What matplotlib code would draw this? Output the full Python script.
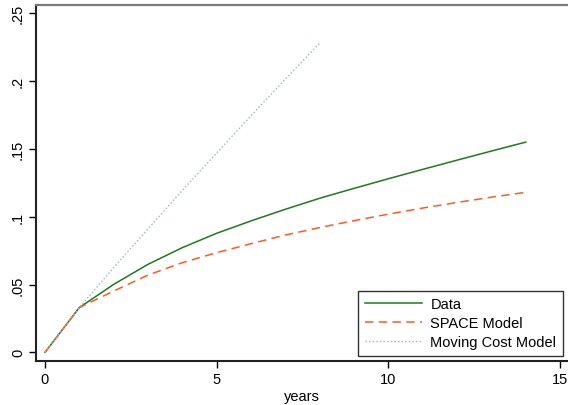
import numpy as np
import matplotlib
matplotlib.use("Agg")
import matplotlib.pyplot as plt

plt.rcParams["font.family"] = ["Liberation Sans", "DejaVu Sans"]

# data
years = list(range(0, 15))
data = [0.0, 0.033, 0.0501, 0.0649, 0.0772, 0.0878, 0.0969, 0.1055, 0.1136,
        0.1209, 0.1280, 0.1349, 0.1417, 0.1484, 0.1550]
space_model = [0.0, 0.033, 0.0452, 0.0570, 0.0661, 0.0735, 0.0801, 0.0865, 0.0920,
               0.0971, 0.1019, 0.1064, 0.1105, 0.1144, 0.1180]
mc_years = list(range(0, 9))
moving_cost = [0.0, 0.033, 0.0625, 0.0910, 0.1195, 0.1470, 0.1745, 0.2015, 0.2280]

xticks = [0, 5, 10, 15]
yticks = [0, 0.05, 0.1, 0.15, 0.2, 0.25]
ytick_labels = ["0", ".05", ".1", ".15", ".2", ".25"]

fig = plt.figure(figsize=(5.68, 4.06), dpi=100)
ax = fig.add_axes([36 / 568, 1 - 362.3 / 406, 532 / 568, 356.6 / 406])

ax.plot(years, data, color="#1e7a1e", lw=1.1, label="Data")
ax.plot(years, space_model, color="#ff5a1e", lw=1.1, dashes=(5.5, 3.5), label="SPACE Model")
ax.plot(mc_years, moving_cost, color="#9fb3c8", lw=1.0, dashes=(1, 1.6), label="Moving Cost Model")

ax.set_xlim(-0.262, 15.23)
ax.set_ylim(-0.0066, 0.2563)
ax.set_xticks(xticks)
ax.set_yticks(yticks)
ax.set_yticklabels(ytick_labels, rotation=90, va="center")
ax.tick_params(axis="both", direction="out", length=5, width=1, labelsize=10.5, pad=3)
ax.set_xlabel("years", fontsize=10.5, labelpad=2)

ax.spines["right"].set_visible(False)
ax.spines["top"].set_color("#7a7a7a")
ax.spines["top"].set_linewidth(1.6)
for s in ("left", "bottom"):
    ax.spines[s].set_linewidth(1.5)
    ax.spines[s].set_color("#222222")

leg = ax.legend(loc="lower right", bbox_to_anchor=(0.9906, 0.0149), borderaxespad=0,
                fontsize=10.5, frameon=True, fancybox=False, handlelength=3.9,
                handletextpad=0.6, labelspacing=0.35, borderpad=0.45)
leg.get_frame().set_edgecolor("black")
leg.get_frame().set_linewidth(1.0)

fig.savefig("out.png", dpi=100)
